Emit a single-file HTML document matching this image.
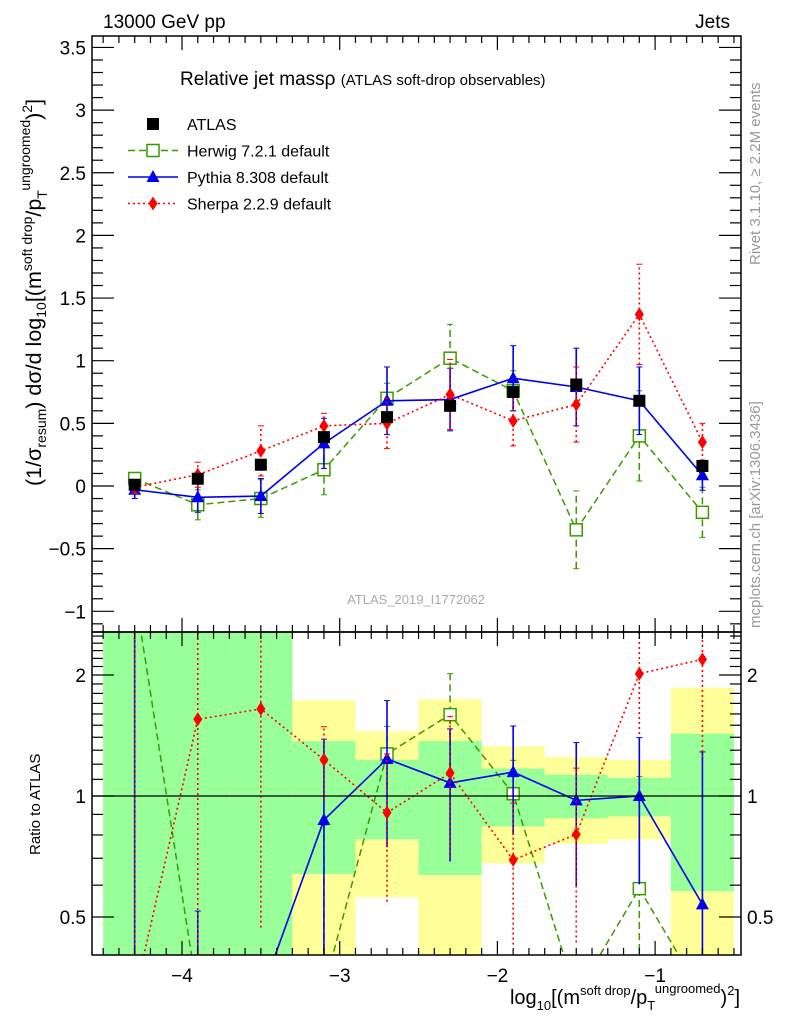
<!DOCTYPE html>
<html><head><meta charset="utf-8"><style>
body{margin:0;background:#fff;overflow:hidden;}
svg{display:block;font-family:"Liberation Sans",sans-serif;}
</style></head><body>
<svg id="c" width="786" height="1024" xmlns="http://www.w3.org/2000/svg">
<g id="bands"></g>
<g id="marks"></g>
<g id="axes"></g>
<text x="103" y="28" font-size="19">13000 GeV pp</text>
<text x="730" y="28" font-size="19" text-anchor="end">Jets</text>
<text x="180" y="85" font-size="19">Relative jet massρ <tspan font-size="15">(ATLAS soft-drop observables)</tspan></text>
<text x="416" y="604" font-size="13" fill="#aaa" text-anchor="middle">ATLAS_2019_I1772062</text>
<text transform="translate(760,265) rotate(-90)" font-size="15" fill="#999">Rivet 3.1.10, ≥ 2.2M events</text>
<text transform="translate(760,628) rotate(-90)" font-size="15" fill="#999">mcplots.cern.ch [arXiv:1306.3436]</text>
<text transform="translate(41,486) rotate(-90)" font-size="21.5">(1/σ<tspan font-size="14" dy="5">resum</tspan><tspan dy="-5">) dσ/d log</tspan><tspan font-size="14" dy="5">10</tspan><tspan dy="-5">[(m</tspan><tspan font-size="14" dy="-9">soft drop</tspan><tspan dy="9">/p</tspan><tspan font-size="14" dy="6">T</tspan><tspan font-size="14" dy="-17">ungroomed</tspan><tspan dy="11">)</tspan><tspan font-size="14" dy="-9">2</tspan><tspan dy="9">]</tspan></text>
<text transform="translate(40,855) rotate(-90)" font-size="15">Ratio to ATLAS</text>
<text x="740" y="1004" font-size="20" text-anchor="end">log<tspan font-size="13" dy="6">10</tspan><tspan dy="-6">[(m</tspan><tspan font-size="13" dy="-9">soft drop</tspan><tspan dy="9">/p</tspan><tspan font-size="13" dy="6">T</tspan><tspan font-size="13" dy="-17">ungroomed</tspan><tspan dy="11">)</tspan><tspan font-size="13" dy="-9">2</tspan><tspan dy="9">]</tspan></text>
<g id="legend"></g>
</svg>
<script>
const categories=[-4.3,-3.9,-3.5,-3.1,-2.7,-2.3,-1.9,-1.5,-1.1,-0.7];
const binEdges=[-4.5,-4.1,-3.7,-3.3,-2.9,-2.5,-2.1,-1.7,-1.3,-0.9,-0.5];
const atlas=[0.01,0.058,0.17,0.39,0.55,0.64,0.75,0.81,0.68,0.16];
const herwig=[0.06,-0.15,-0.10,0.13,0.70,1.02,0.76,-0.35,0.40,-0.21];
const herwigErr=[0.03,0.12,0.15,0.20,0.12,0.27,0.16,0.31,0.36,0.20];
const pythia=[-0.03,-0.09,-0.08,0.34,0.68,0.69,0.86,0.79,0.68,0.086];
const pythiaErr=[0.07,0.12,0.14,0.20,0.27,0.25,0.26,0.31,0.27,0.12];
const sherpa=[-0.01,0.09,0.28,0.48,0.50,0.73,0.52,0.65,1.37,0.35];
const sherpaErr=[0.05,0.10,0.20,0.10,0.20,0.28,0.20,0.30,0.40,0.15];
const greenLo=[0.1,0.1,0.1,0.64,0.78,0.636,0.84,0.88,0.89,0.58];
const greenHi=[9,9,9,1.37,1.23,1.37,1.17,1.13,1.11,1.43];
const yellowLo=[0.1,0.1,0.1,0.1,0.56,0.1,0.68,0.76,0.78,0.1];
const yellowHi=[9,9,9,1.73,1.45,1.74,1.33,1.25,1.23,1.86];
const xTicks=[-4,-3,-2,-1];
const yTicks=[-1,-0.5,0,0.5,1,1.5,2,2.5,3,3.5];
const rTicks=[0.5,1,2];

const NS="http://www.w3.org/2000/svg";
const L=92,R=741,T=36,M=632,B=955;
const X=v=>182+(v+4)*157.7;
const Y=v=>486-v*125.3;
const RY=v=>Math.min(B+40,Math.max(M-40,796-Math.log2(Math.max(v,0.01))*121));
function mk(tag,attrs,parent){const e=document.createElementNS(NS,tag);for(const k in attrs)e.setAttribute(k,attrs[k]);parent.appendChild(e);return e;}
const svg=document.getElementById('c');
const defs=mk('defs',{},svg);
const cp1=mk('clipPath',{id:'cm'},defs);mk('rect',{x:L,y:T,width:R-L,height:M-T},cp1);
const cp2=mk('clipPath',{id:'cr'},defs);mk('rect',{x:L,y:M,width:R-L,height:B-M},cp2);
const bands=document.getElementById('bands');bands.setAttribute('clip-path','url(#cr)');
const marks=document.getElementById('marks');
const axes=document.getElementById('axes');
for(let i=0;i<categories.length;i++){
 const x0=X(binEdges[i]),x1=X(binEdges[i+1]);
 let r=mk('rect',{x:x0,y:RY(yellowHi[i]),width:x1-x0,height:RY(yellowLo[i])-RY(yellowHi[i]),fill:'#ffff99'},bands);
 
 
 r=mk('rect',{x:x0,y:RY(greenHi[i]),width:x1-x0,height:RY(greenLo[i])-RY(greenHi[i]),fill:'#99ff99'},bands);
 
 
}
mk('line',{x1:L,x2:R,y1:RY(1),y2:RY(1),stroke:'#000','stroke-width':1.3},axes);
const gm=mk('g',{'clip-path':'url(#cm)'},marks);
const gr=mk('g',{'clip-path':'url(#cr)'},marks);
function marker(g,shape,x,y,col){
 let e;
 if(shape==='sq')e=mk('rect',{x:x-6,y:y-6,width:12,height:12,fill:'#000'},g);
 else if(shape==='osq')e=mk('rect',{x:x-6,y:y-6,width:12,height:12,fill:'#fff',stroke:col,'stroke-width':1.5},g);
 else if(shape==='tri')e=mk('polygon',{points:`${x},${y-7} ${x-6.5},${y+5} ${x+6.5},${y+5}`,fill:col},g);
 else e=mk('polygon',{points:`${x},${y-7} ${x-4.5},${y} ${x},${y+7} ${x+4.5},${y}`,fill:col},g);
 
 
}
const series=[
 {name:'herwig',v:herwig,e:herwigErr,col:'#3a9a00',dash:'7,4',shape:'osq',w:1.5},
 {name:'pythia',v:pythia,e:pythiaErr,col:'#0000ee',dash:'',shape:'tri',w:1.6},
 {name:'sherpa',v:sherpa,e:sherpaErr,col:'#ff0000',dash:'2,3',shape:'dia',w:1.6}];
series.forEach(s=>{
 const g1=mk('g',{},gm);
 const g2=mk('g',{},gr);
 const st={stroke:s.col,'stroke-width':s.w,fill:'none'};if(s.dash)st['stroke-dasharray']=s.dash;
 for(let i=0;i<categories.length;i++){
  const x=X(categories[i]);
  let l=mk('line',Object.assign({x1:x,x2:x,y1:Y(s.v[i]-s.e[i]),y2:Y(s.v[i]+s.e[i])},st),g1);
  
  
  mk('line',{x1:x-3,x2:x+3,y1:Y(s.v[i]-s.e[i]),y2:Y(s.v[i]-s.e[i]),stroke:s.col},g1);
  mk('line',{x1:x-3,x2:x+3,y1:Y(s.v[i]+s.e[i]),y2:Y(s.v[i]+s.e[i]),stroke:s.col},g1);
  const r=s.v[i]/atlas[i],re=s.e[i]/atlas[i];
  l=mk('line',Object.assign({x1:x,x2:x,y1:RY(r-re),y2:RY(r+re)},st),g2);
  
  
  mk('line',{x1:x-3,x2:x+3,y1:RY(r+re),y2:RY(r+re),stroke:s.col},g2);
 }
 let p=mk('polyline',Object.assign({points:categories.map((c,i)=>X(c)+','+Y(s.v[i])).join(' ')},st),g1);
 
 
 p=mk('polyline',Object.assign({points:categories.map((c,i)=>X(c)+','+RY(s.v[i]/atlas[i])).join(' ')},st),g2);
 
 
 categories.forEach((c,i)=>{marker(g1,s.shape,X(c),Y(s.v[i]),s.col);marker(g2,s.shape,X(c),RY(s.v[i]/atlas[i]),s.col);});
});
const ga=mk('g',{},gm);
categories.forEach((c,i)=>marker(ga,'sq',X(c),Y(atlas[i]),'#000'));
[[T,M],[M,B]].forEach(([a,b])=>mk('rect',{x:L,y:a,width:R-L,height:b-a,fill:'none',stroke:'#000','stroke-width':1.5},axes));
for(let v=-4.5;v<=-0.45;v+=0.1){
 const x=X(v),maj=Math.abs(v-Math.round(v))<0.01,len=maj?14:7;
 [[T,1],[M,-1],[M,1],[B,-1]].forEach(([y,d])=>mk('line',{x1:x,x2:x,y1:y,y2:y+d*len,stroke:'#000','stroke-width':1.2},axes));
}
xTicks.forEach(v=>{const t=mk('text',{x:X(v),y:982,'font-size':19,'text-anchor':'middle'},axes);t.textContent=v<0?'\u2212'+Math.abs(v):v;
 });
for(let v=-1.1;v<=3.55;v+=0.1){
 const y=Y(v),maj=Math.abs(v*2-Math.round(v*2))<0.01,len=maj?22:11;
 mk('line',{x1:L,x2:L+len,y1:y,y2:y,stroke:'#000','stroke-width':1.2},axes);
 mk('line',{x1:R,x2:R-len,y1:y,y2:y,stroke:'#000','stroke-width':1.2},axes);
}
yTicks.forEach(v=>{const t=mk('text',{x:L-6,y:Y(v)+7,'font-size':19,'text-anchor':'end'},axes);t.textContent=v<0?'\u2212'+Math.abs(v):v;
 });
const rt=[0.5,0.6,0.7,0.8,0.9,1,1.1,1.2,1.3,1.4,1.5,1.6,1.7,1.8,1.9,2,2.1,2.2,2.3,2.4,2.5];
rt.forEach(v=>{const y=RY(v);if(y<M||y>B)return;const len=rTicks.includes(v)?22:11;
 mk('line',{x1:L,x2:L+len,y1:y,y2:y,stroke:'#000','stroke-width':1.2},axes);
 mk('line',{x1:R,x2:R-len,y1:y,y2:y,stroke:'#000','stroke-width':1.2},axes);});
rTicks.forEach(v=>{let t=mk('text',{x:L-6,y:RY(v)+7,'font-size':19,'text-anchor':'end'},axes);t.textContent=v;
 
 t=mk('text',{x:R+6,y:RY(v)+7,'font-size':19},axes);t.textContent=v;
 });
const lg=document.getElementById('legend');
const items=[['ATLAS','sq','#000',''],['Herwig 7.2.1 default','osq','#3a9a00','7,4'],['Pythia 8.308 default','tri','#0000ee',''],['Sherpa 2.2.9 default','dia','#ff0000','2,3']];
items.forEach((it,i)=>{const y=124+i*26.5;const g=mk('g',{},lg);
 
 if(i>0){const a={x1:128,x2:178,y1:y,y2:y,stroke:it[2],'stroke-width':1.5};if(it[3])a['stroke-dasharray']=it[3];mk('line',a,g);}
 marker(g,it[1],153,y,it[2]);
 const t=mk('text',{x:187,y:y+6,'font-size':16},g);t.textContent=it[0];});
</script>
</body></html>
